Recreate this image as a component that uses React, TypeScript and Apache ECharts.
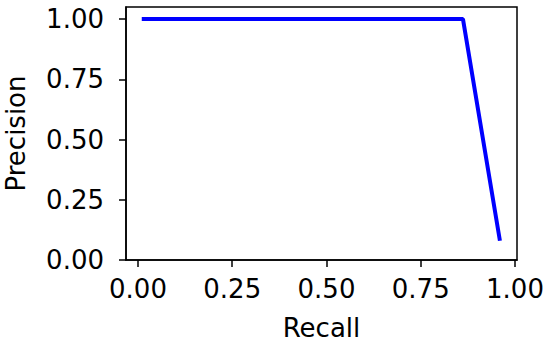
import React, { useEffect, useRef } from "react";
import * as echarts from "echarts";

const recall = [0.01, 0.862, 0.96];
const precision = [1.0, 1.0, 0.08];
const tickValues = [0, 0.25, 0.5, 0.75, 1.0];

export default function App() {
  const ref = useRef<HTMLDivElement>(null);
  useEffect(() => {
    if (!ref.current) return;
    const chart = echarts.init(ref.current, null, { renderer: "svg" });
    const font = "DejaVu Sans";
    const axisCommon = {
      type: "value" as const,
      splitLine: { show: false },
      axisLine: { show: true, onZero: false, lineStyle: { color: "#000", width: 1.5 } },
      axisTick: { show: true, inside: false, length: 7, lineStyle: { color: "#000", width: 1.5 }, customValues: tickValues },
      nameTextStyle: { fontFamily: font, fontSize: 26, color: "#000" },
      nameLocation: "middle" as const,
    };
    chart.setOption({
      animation: false,
      grid: {
        left: 126, top: 7, right: 33, bottom: 86,
        show: true, borderColor: "#000", borderWidth: 1.5,
        outerBoundsMode: "none", containLabel: false,
      },
      xAxis: {
        ...axisCommon,
        min: -0.0318,
        max: 1.0053,
        name: "Recall",
        nameGap: 55,
        axisLabel: {
          customValues: tickValues,
          formatter: (v: number) => v.toFixed(2),
          fontFamily: font,
          fontSize: 26,
          color: "#000",
          margin: 16,
        },
      },
      yAxis: {
        ...axisCommon,
        min: 0,
        max: 1.05,
        name: "Precision",
        nameGap: 97,
        axisLabel: {
          customValues: tickValues,
          formatter: (v: number) => v.toFixed(2),
          fontFamily: font,
          fontSize: 26,
          color: "#000",
          margin: 22,
        },
      },
      series: [
        {
          type: "line",
          data: recall.map((r, i) => [r, precision[i]]),
          showSymbol: false,
          lineStyle: { color: "#0000ff", width: 4 },
        },
      ],
    });
    return () => chart.dispose();
  }, []);
  return (
    <div
      ref={ref}
      style={{ position: "fixed", left: 0, top: 0, width: 550, height: 346, background: "#fff" }}
    />
  );
}
